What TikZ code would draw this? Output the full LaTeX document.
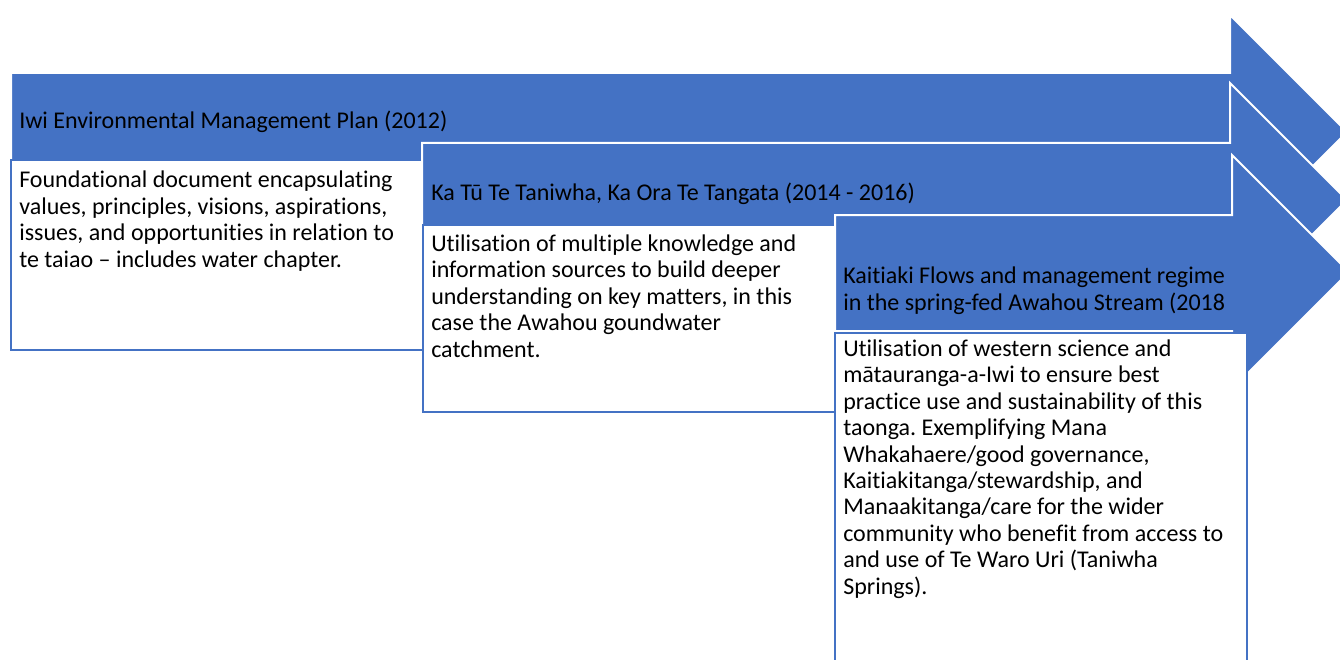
\documentclass[tikz,border=0pt]{standalone}
\usepackage{fontspec}
\setmainfont{Carlito}[Ligatures=NoCommon]
\frenchspacing
\definecolor{stageblue}{HTML}{4472C4}

\tikzset{
  stagearrow/.style={fill=stageblue, draw=white, line width=1.5pt, line join=miter},
  stagebox/.style={fill=white, draw=stageblue, line width=1.5pt},
  stagetext/.style={anchor=base west, inner sep=0pt, align=left,
    font=\fontsize{18}{19.8}\selectfont},
}

\begin{document}
\begin{tikzpicture}[x=0.75pt, y=-0.75pt]

\clip (0,0) rectangle (1340,660);

% stage 1 : arrow and box (text nodes sit on the baseline of their last line)
\draw[stagearrow] (11,73) -- (1230,73) -- (1230,15) -- (1347,132) -- (1230,249) -- (1230,191) -- (11,191) -- cycle;
\node[stagetext] (head1) at (19,128) {Iwi Environmental Management Plan (2012)};
\draw[stagebox] (11,160) rectangle (423,350);
\node[stagetext] (text1) at (19,267) {Foundational document encapsulating\\
values, principles, visions, aspirations,\\
issues, and opportunities in relation to\\
te taiao -- includes water chapter.};

% stage 2
\draw[stagearrow] (422,143) -- (1230,143) -- (1230,83) -- (1347,200) -- (1230,317) -- (1230,257) -- (422,257) -- cycle;
\node[stagetext] (head2) at (431,200) {Ka Tū Te Taniwha, Ka Ora Te Tangata (2014 - 2016)};
\draw[stagebox] (423,225) rectangle (835,412);
\node[stagetext] (text2) at (431,357) {Utilisation of multiple knowledge and\\
information sources to build deeper\\
understanding on key matters, in this\\
case the Awahou goundwater\\
catchment.};

% stage 3
\draw[stagearrow] (835,215) -- (1232,215) -- (1232,155) -- (1349,272) -- (1232,389) -- (1232,331) -- (835,331) -- cycle;
\node[stagetext] (head3) at (843,310) {Kaitiaki Flows and management regime\\
in the spring-fed Awahou Stream (2018};
\draw[stagebox] (835,333) rectangle (1247,670);
\node[stagetext] (text3) at (843,594) {Utilisation of western science and\\
mātauranga-a-Iwi to ensure best\\
practice use and sustainability of this\\
taonga. Exemplifying Mana\\
Whakahaere/good governance,\\
Kaitiakitanga/stewardship, and\\
Manaakitanga/care for the wider\\
community who benefit from access to\\
and use of Te Waro Uri (Taniwha\\
Springs).};

\end{tikzpicture}
\end{document}
